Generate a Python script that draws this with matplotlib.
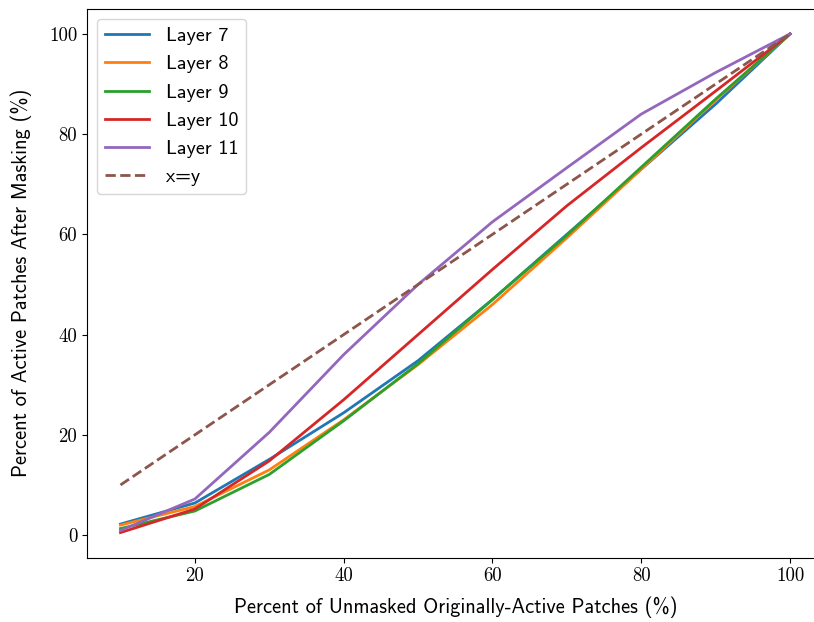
import matplotlib
matplotlib.use("Agg")
import matplotlib.pyplot as plt

# fraction of originally-active patches kept unmasked (%)
unmasked = [10, 20, 30, 40, 50, 60, 70, 80, 90, 100]

layer7 = [2.2, 6.4, 15.1, 24.4, 34.8, 47.0, 60.0, 73.0, 86.0, 100]
layer8 = [2.0, 5.7, 13.0, 23.0, 34.0, 46.0, 59.3, 73.0, 86.8, 100]
layer9 = [1.3, 4.8, 12.1, 22.8, 34.2, 47.0, 59.8, 73.4, 87.0, 100]
layer10 = [0.5, 5.2, 14.8, 27.0, 40.0, 53.0, 65.7, 77.3, 88.6, 100]
layer11 = [0.9, 7.2, 20.5, 36.0, 50.0, 62.5, 73.3, 84.0, 92.3, 100]

series = [("Layer 7", layer7), ("Layer 8", layer8), ("Layer 9", layer9),
          ("Layer 10", layer10), ("Layer 11", layer11)]

sans = "cmss10"
serif = "cmr10"
plt.rcParams["axes.unicode_minus"] = False
plt.rcParams["lines.linewidth"] = 2.0

fig = plt.figure(figsize=(8.14, 6.22), dpi=100)
# the original is cropped on the right, so the axes run past the edge
ax = fig.add_axes([87 / 814, 1 - 557.5 / 622, 736.5 / 814, 548.5 / 622])

for name, vals in series:
    ax.plot(unmasked, vals, label=name)
ax.plot(unmasked, unmasked, "--", label="x=y")
ax.set_xlim(5.5, 104.5)
ax.spines["right"].set_visible(False)

ax.set_xlabel("Percent of Unmasked Originally-Active Patches (%)",
              fontfamily=sans, fontsize=14.7, labelpad=8)
ax.set_ylabel("Percent of Active Patches After Masking (%)",
              fontfamily=sans, fontsize=14.7, labelpad=12)

ax.set_xticks([20, 40, 60, 80, 100])
ax.set_yticks([0, 20, 40, 60, 80, 100])
for lab in ax.get_xticklabels() + ax.get_yticklabels():
    lab.set_fontfamily(serif)
    lab.set_fontsize(13.5)

ax.legend(loc="upper left", prop={"family": sans, "size": 14.5},
          handlelength=2.2)

fig.savefig("out.png", dpi=100)
